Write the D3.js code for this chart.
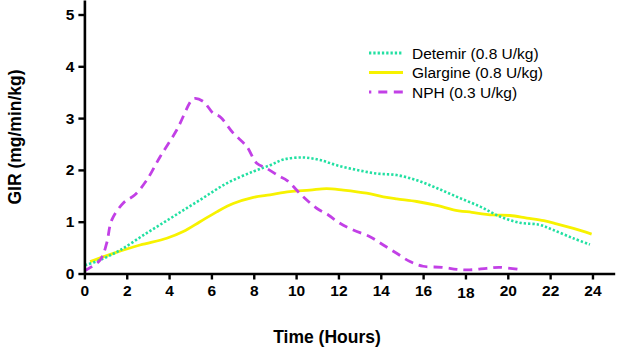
<!DOCTYPE html>
<html>
<head>
<meta charset="utf-8">
<script src="https://cdn.jsdelivr.net/npm/d3@7"></script>
<style>
  html, body { margin: 0; padding: 0; background: #fff; }
  svg { display: block; }
</style>
</head>
<body>
<svg id="chart" width="633" height="353"></svg>
<script>
// ---- Data ----
const xTicks = [0, 2, 4, 6, 8, 10, 12, 14, 16, 18, 20, 22, 24];
const yTicks = [0, 1, 2, 3, 4, 5];
const seriesNames = ["Detemir (0.8 U/kg)", "Glargine (0.8 U/kg)", "NPH (0.3 U/kg)"];

const detemirHours = [0.03, 0.74, 1.68, 2.94, 4.2, 5.46, 6.72, 7.98, 8.77, 9.4, 10.34, 11.13, 11.92, 12.86, 13.8, 14.75, 15.7, 16.64, 17.6, 18.7, 19.63, 20.57, 21.5, 22.15, 23.09, 23.88];
const detemirGIR   = [0.16, 0.26, 0.45, 0.78, 1.10, 1.42, 1.74, 1.97, 2.09, 2.20, 2.24, 2.19, 2.09, 2.00, 1.93, 1.90, 1.80, 1.65, 1.48, 1.29, 1.10, 0.98, 0.94, 0.84, 0.68, 0.56];

const glargineHours = [0.27, 1.37, 2.63, 3.89, 4.67, 5.46, 6.25, 7.03, 7.98, 8.77, 9.7, 10.65, 11.44, 12.23, 13.33, 14.12, 14.75, 15.7, 16.7, 17.43, 18.3, 19.3, 20.1, 20.9, 21.7, 22.3, 23.1, 23.96];
const glargineGIR   = [0.23, 0.39, 0.55, 0.68, 0.81, 1.00, 1.19, 1.35, 1.47, 1.52, 1.58, 1.61, 1.64, 1.61, 1.55, 1.48, 1.44, 1.39, 1.31, 1.23, 1.18, 1.13, 1.12, 1.07, 1.02, 0.96, 0.87, 0.76];

const nphHours = [0, 0.74, 1.05, 1.29, 1.84, 2.39, 2.94, 3.57, 4.36, 5.07, 5.22, 5.62, 6.09, 6.4, 7.03, 7.67, 8.14, 8.61, 9.24, 9.56, 10.34, 10.97, 11.52, 12.07, 12.7, 13.49, 14.12, 14.75, 15.38, 16.0, 16.9, 17.6, 18.2, 19.0, 19.6, 20.66];
const nphGIR   = [0.05, 0.26, 0.58, 1.03, 1.36, 1.52, 1.80, 2.25, 2.77, 3.35, 3.38, 3.32, 3.09, 3.03, 2.71, 2.45, 2.13, 2.03, 1.87, 1.80, 1.48, 1.26, 1.13, 0.97, 0.84, 0.71, 0.55, 0.39, 0.23, 0.14, 0.12, 0.08, 0.07, 0.10, 0.12, 0.07];

const colors = ["#22e0a2", "#f7f200", "#c240e6"];
const dashes = ["2.3,2", null, "9,6"];

// ---- Chart ----
const svg = d3.select("#chart");
const x = d3.scaleLinear().domain([0, 25.05]).range([84.4, 614.7]);
const y = d3.scaleLinear().domain([0, 5.28]).range([273.5, 0]);

const font = "'Liberation Sans', Arial, Helvetica, sans-serif";

function makeSeries(hours, vals) { return hours.map((h, i) => [h, vals[i]]); }
const series = [
  makeSeries(detemirHours, detemirGIR),
  makeSeries(glargineHours, glargineGIR),
  makeSeries(nphHours, nphGIR)
];

const line = d3.line().x(d => x(d[0])).y(d => y(d[1])).curve(d3.curveCatmullRom.alpha(0.5));

// draw order: glargine, detemir, NPH
[1, 0, 2].forEach(i => {
  svg.append("path")
    .datum(series[i])
    .attr("d", line)
    .attr("fill", "none")
    .attr("stroke", colors[i])
    .attr("stroke-width", i === 0 ? 2.6 : 2.8)
    .attr("stroke-dasharray", dashes[i])
    .attr("stroke-linecap", "butt");
});

// axes
const xAxis = svg.append("g")
  .attr("transform", `translate(0,${y(0)})`)
  .call(d3.axisBottom(x).tickValues(xTicks).tickFormat(d3.format("d")).tickSize(6).tickSizeOuter(0).tickPadding(5));
const yAxis = svg.append("g")
  .attr("transform", `translate(${x(0)},0)`)
  .call(d3.axisLeft(y).tickValues(yTicks).tickFormat(d3.format("d")).tickSize(6).tickSizeOuter(0).tickPadding(4));

[xAxis, yAxis].forEach(g => {
  g.selectAll("path.domain").attr("stroke", "#000").attr("stroke-width", 2.6);
  g.selectAll(".tick line").attr("stroke", "#000").attr("stroke-width", 2.4);
  g.selectAll(".tick text")
    .attr("fill", "#000")
    .style("font-family", font)
    .style("font-size", "15.5px")
    .style("font-weight", "bold");
});
xAxis.selectAll(".tick text").filter(d => d === 18).attr("transform", "translate(0,2)");

// axis titles
svg.append("text")
  .attr("x", 327).attr("y", 343)
  .attr("text-anchor", "middle")
  .style("font-family", font).style("font-size", "17.5px").style("font-weight", "bold")
  .text("Time (Hours)");

svg.append("text")
  .attr("transform", `translate(21,137) rotate(-90)`)
  .attr("text-anchor", "middle")
  .style("font-family", font).style("font-size", "17.5px").style("font-weight", "bold")
  .text("GIR (mg/min/kg)");

// legend
const legendY = [53, 72.5, 92];
const leg = svg.append("g");
seriesNames.forEach((name, i) => {
  leg.append("line")
    .attr("x1", 369).attr("x2", 403)
    .attr("y1", legendY[i]).attr("y2", legendY[i])
    .attr("stroke", colors[i])
    .attr("stroke-width", 2.8)
    .attr("stroke-dasharray", i === 2 ? "2.3,7,9,6.5,9" : dashes[i]);
  leg.append("text")
    .attr("x", 412).attr("y", legendY[i])
    .attr("dy", "0.36em")
    .style("font-family", font).style("font-size", "15.5px")
    .attr("fill", "#000")
    .text(name);
});
</script>
</body>
</html>
